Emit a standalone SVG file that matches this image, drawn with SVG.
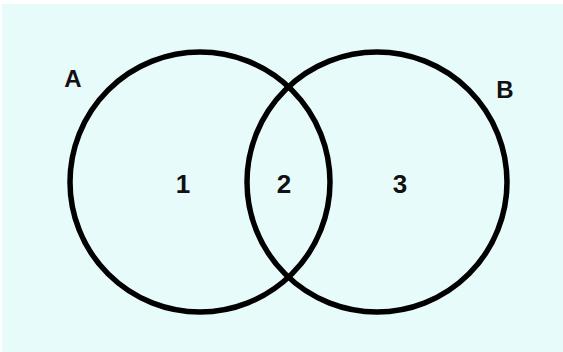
<svg xmlns="http://www.w3.org/2000/svg" width="563" height="352" viewBox="0 0 563 352">
<style>
.c{fill:none;stroke:#000;stroke-width:5.5}
.t{font-family:"Liberation Sans",Arial,sans-serif;font-weight:bold;fill:#111;text-anchor:middle}
.l{font-size:24px}
.n{font-size:26px}
</style>
<rect x="0" y="0" width="563" height="352" fill="#fff"/>
<rect x="2" y="4" width="561" height="348" fill="#e8fbfb"/>
<g id="setA">
<circle class="c" cx="200" cy="182" r="130"/>
<text class="t l" x="73" y="87">A</text>
</g>
<g id="setB">
<circle class="c" cx="377" cy="182" r="130"/>
<text class="t l" x="505" y="98">B</text>
</g>
<g id="regions">
<text class="t n" x="183" y="193">1</text>
<text class="t n" x="284" y="193">2</text>
<text class="t n" x="400" y="193">3</text>
</g>
<g id="connectors"></g>
</svg>
